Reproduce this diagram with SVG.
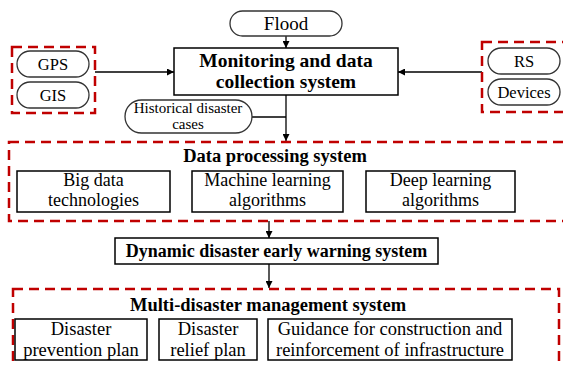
<svg xmlns="http://www.w3.org/2000/svg" width="563" height="367" viewBox="0 0 563 367">
<defs>
<marker id="ah" viewBox="0 0 10 10" refX="10" refY="5" markerWidth="7" markerHeight="7" orient="auto" markerUnits="userSpaceOnUse"><path d="M0,0 L10,5 L0,10 z" fill="#000"/></marker>
<style>
.grp{fill:none;stroke:#c00000;stroke-width:2.5;stroke-dasharray:10 6}
.box{fill:#fff;stroke:#000;stroke-width:1.5}
.pill{fill:#fff;stroke:#333;stroke-width:1.3}
text{font-family:'Liberation Serif','Times New Roman','DejaVu Serif',serif;fill:#000;text-anchor:middle}
.b{font-weight:bold}
.ln{fill:none;stroke:#000;stroke-width:1.3}
</style>
</defs>
<rect width="563" height="367" fill="#fff"/>
<g id="connectors">
<line class="ln" x1="286" y1="36" x2="286" y2="48" marker-end="url(#ah)"/>
<line class="ln" x1="95" y1="72" x2="174" y2="72" marker-end="url(#ah)"/>
<line class="ln" x1="482" y1="72" x2="398" y2="72" marker-end="url(#ah)"/>
<line class="ln" x1="252" y1="117" x2="286" y2="117"/>
<line class="ln" x1="286" y1="95" x2="286" y2="141" marker-end="url(#ah)"/>
<line class="ln" x1="269" y1="221" x2="269" y2="238" marker-end="url(#ah)"/>
<line class="ln" x1="269" y1="264" x2="269" y2="288" marker-end="url(#ah)"/>
</g>
<g id="flood"><rect class="pill" x="230" y="11" width="112" height="25" rx="12.5"/><text x="286" y="30" font-size="19">Flood</text></g>
<g id="monitoring"><rect class="box" x="174" y="48" width="224" height="47"/><text class="b" x="286" y="67" font-size="19.5">Monitoring and data</text><text class="b" x="286" y="88" font-size="19.5">collection system</text></g>
<g id="gps-gis-group"><rect class="grp" x="12" y="47" width="83" height="66"/></g>
<g id="gps"><rect class="pill" x="17" y="51" width="72" height="26" rx="13"/><text x="53" y="70" font-size="16.5">GPS</text></g>
<g id="gis"><rect class="pill" x="17" y="82" width="72" height="26" rx="13"/><text x="53" y="101" font-size="16.5">GIS</text></g>
<g id="rs-group"><rect class="grp" x="482" y="42" width="86" height="70"/></g>
<g id="rs"><rect class="pill" x="488" y="48" width="72" height="26" rx="13"/><text x="524" y="67" font-size="16.5">RS</text></g>
<g id="devices"><rect class="pill" x="488" y="79" width="72" height="26" rx="13"/><text x="524" y="98" font-size="16.5">Devices</text></g>
<g id="historical"><rect class="pill" x="125" y="100" width="127" height="33" rx="16.5"/><text x="188" y="113" font-size="15">Historical disaster</text><text x="188" y="129" font-size="15">cases</text></g>
<g id="data-processing"><rect class="grp" x="9" y="142" width="562" height="79"/><text class="b" x="275" y="162" font-size="18.5">Data processing system</text></g>
<g id="big-data"><rect class="box" x="17" y="171" width="153" height="41"/><text x="93.5" y="186" font-size="18">Big data</text><text x="93.5" y="206" font-size="18">technologies</text></g>
<g id="machine-learning"><rect class="box" x="192" y="171" width="151" height="41"/><text x="267.5" y="186" font-size="18">Machine learning</text><text x="267.5" y="206" font-size="18">algorithms</text></g>
<g id="deep-learning"><rect class="box" x="366" y="171" width="149" height="41"/><text x="440.5" y="186" font-size="18">Deep learning</text><text x="440.5" y="206" font-size="18">algorithms</text></g>
<g id="dynamic"><rect class="box" x="115" y="238" width="323" height="26"/><text class="b" x="276.5" y="257" font-size="18">Dynamic disaster early warning system</text></g>
<g id="multi-disaster"><rect class="grp" x="13" y="289" width="546" height="90"/><text class="b" x="268" y="311" font-size="18.5">Multi-disaster management system</text></g>
<g id="prevention"><rect class="box" x="15" y="319" width="132" height="41"/><text x="81" y="335" font-size="18.5">Disaster</text><text x="81" y="356" font-size="18.5">prevention plan</text></g>
<g id="relief"><rect class="box" x="159" y="319" width="98" height="41"/><text x="208" y="335" font-size="18.5">Disaster</text><text x="208" y="356" font-size="18.5">relief plan</text></g>
<g id="guidance"><rect class="box" x="268" y="319" width="244" height="41"/><text x="390" y="335" font-size="18.5">Guidance for construction and</text><text x="390" y="356" font-size="18.5">reinforcement of infrastructure</text></g>
</svg>
